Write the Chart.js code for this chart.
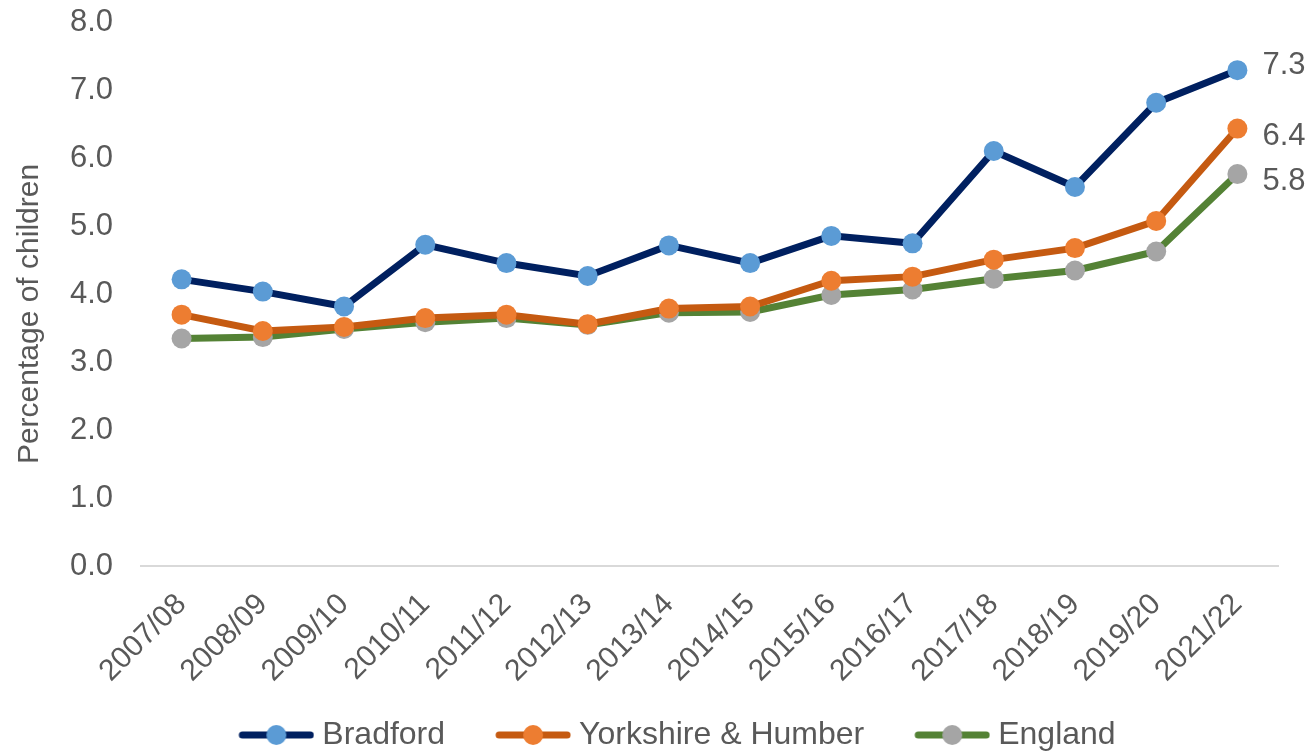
<!DOCTYPE html>
<html>
<head>
<meta charset="utf-8">
<script src="https://cdn.jsdelivr.net/npm/chart.js@4"></script>
<style>
  html, body { margin: 0; padding: 0; background: #ffffff; }
  #wrap { width: 1314px; height: 751px; position: relative; }
</style>
</head>
<body>
<div id="wrap"><canvas id="c" width="1314" height="751"></canvas></div>
<script>
const categories = ["2007/08","2008/09","2009/10","2010/11","2011/12","2012/13","2013/14","2014/15","2015/16","2016/17","2017/18","2018/19","2019/20","2021/22"];
const bradford  = [4.22, 4.04, 3.82, 4.73, 4.46, 4.27, 4.72, 4.46, 4.86, 4.75, 6.11, 5.58, 6.82, 7.3];
const yorkshire = [3.70, 3.46, 3.52, 3.65, 3.70, 3.56, 3.79, 3.82, 4.20, 4.26, 4.51, 4.68, 5.08, 6.44];
const england   = [3.35, 3.37, 3.49, 3.59, 3.65, 3.55, 3.73, 3.74, 3.99, 4.07, 4.23, 4.35, 4.63, 5.77];
const seriesNames = ["Bradford", "Yorkshire & Humber", "England"];
const yTicks = [0, 1, 2, 3, 4, 5, 6, 7, 8];
const yTitle = "Percentage of children";

const FONT = "'Liberation Sans', Arial, sans-serif";
const TXT = "#595959";
const lineColors = ["#002060", "#C55A11", "#548235"];
const markerColors = ["#5B9BD5", "#ED7D31", "#A5A5A5"];
const endLabelOffsets = [-5, 8, 7];

function legendImage(lineCol, dotCol) {
  const cv = document.createElement('canvas');
  cv.width = 124; cv.height = 22;
  const g = cv.getContext('2d');
  g.strokeStyle = lineCol; g.lineWidth = 7; g.lineCap = 'round';
  g.beginPath(); g.moveTo(52, 11); g.lineTo(120, 11); g.stroke();
  g.fillStyle = dotCol;
  g.beginPath(); g.arc(86, 11, 10, 0, Math.PI * 2); g.fill();
  return cv;
}
const legendImgs = lineColors.map((c, i) => legendImage(c, markerColors[i]));

const endLabels = {
  id: 'endLabels',
  afterDatasetsDraw(chart) {
    const ctx = chart.ctx;
    ctx.save();
    ctx.font = "31px " + FONT;
    ctx.fillStyle = TXT;
    ctx.textAlign = 'left';
    ctx.textBaseline = 'middle';
    chart.data.datasets.forEach((ds, i) => {
      const meta = chart.getDatasetMeta(i);
      const last = meta.data[meta.data.length - 1];
      const v = ds.data[ds.data.length - 1];
      ctx.fillText(v.toFixed(1), last.x + 25, last.y + endLabelOffsets[i]);
    });
    ctx.restore();
  }
};

const yTitlePlugin = {
  id: 'yTitlePlugin',
  afterDraw(chart) {
    const ctx = chart.ctx;
    ctx.save();
    ctx.font = "30px " + FONT;
    ctx.fillStyle = TXT;
    ctx.textAlign = 'center';
    ctx.textBaseline = 'middle';
    ctx.translate(30, 314);
    ctx.rotate(-Math.PI / 2);
    ctx.fillText(yTitle, 0, 0);
    ctx.restore();
  }
};

const datasets = [bradford, yorkshire, england].map((d, i) => ({
  label: seriesNames[i],
  data: d,
  borderColor: lineColors[i],
  backgroundColor: markerColors[i],
  borderWidth: 7,
  pointRadius: 10,
  pointHoverRadius: 10,
  pointBorderWidth: 0,
  pointBackgroundColor: markerColors[i],
  pointBorderColor: markerColors[i],
  tension: 0,
  clip: false,
  order: i + 1
}));

new Chart(document.getElementById('c'), {
  type: 'line',
  data: { labels: categories, datasets },
  plugins: [endLabels, yTitlePlugin],
  options: {
    responsive: false,
    animation: false,
    layout: { padding: { left: 0, right: 0, top: 20, bottom: -10 } },
    plugins: {
      tooltip: { enabled: false },
      legend: {
        position: 'bottom',
        labels: {
          usePointStyle: true,
          pointStyleWidth: 108,
          padding: 10,
          color: TXT,
          font: { family: FONT, size: 32 },
          generateLabels(chart) {
            const items = Chart.defaults.plugins.legend.labels.generateLabels(chart);
            items.forEach((it) => { it.pointStyle = legendImgs[it.datasetIndex]; });
            items.sort((a, b) => a.datasetIndex - b.datasetIndex);
            return items;
          }
        }
      }
    },
    scales: {
      x: {
        offset: true,
        grid: { display: false, drawTicks: false },
        border: { display: true, color: '#D9D9D9', width: 2 },
        ticks: {
          autoSkip: false,
          maxRotation: 45,
          minRotation: 45,
          padding: 21,
          color: TXT,
          font: { family: FONT, size: 30 }
        },
        afterFit(scale) { scale.height = 143; }
      },
      y: {
        min: 0,
        max: 8,
        afterBuildTicks(scale) { scale.ticks = yTicks.map(v => ({ value: v })); },
        grid: { display: true, drawOnChartArea: false, drawTicks: true, tickLength: 24, tickColor: 'rgba(0,0,0,0)' },
        border: { display: false },
        ticks: {
          padding: 4,
          color: TXT,
          font: { family: FONT, size: 31 },
          callback: (v) => Number(v).toFixed(1)
        },
        afterFit(scale) { scale.width = 141; }
      },
      yRight: {
        position: 'right',
        display: true,
        grid: { display: false, drawTicks: false },
        border: { display: false },
        ticks: { display: false },
        afterFit(scale) { scale.width = 36; }
      }
    }
  }
});
</script>
</body>
</html>
